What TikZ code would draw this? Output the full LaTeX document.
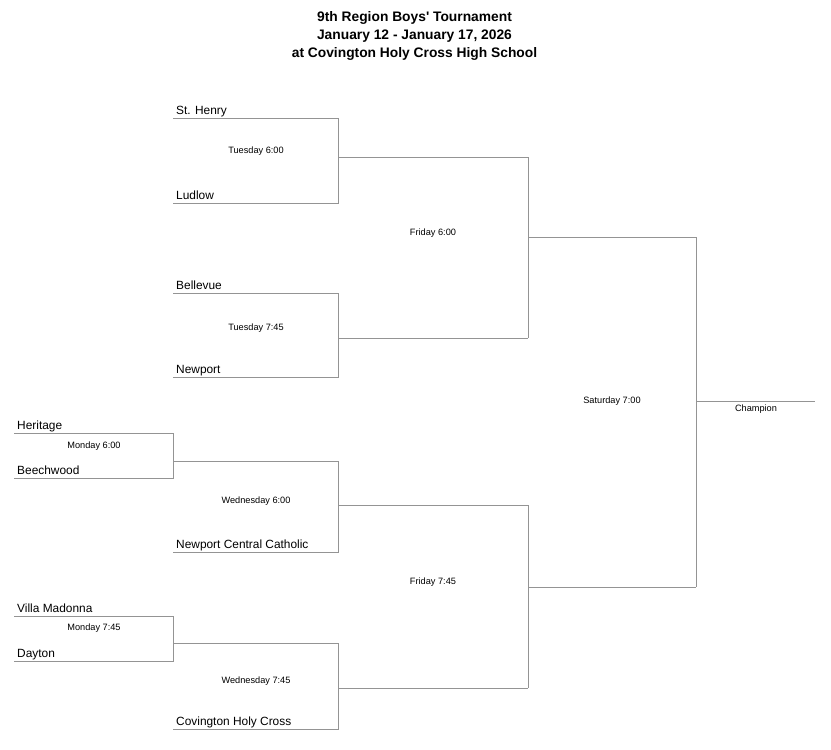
\documentclass[tikz,border=0pt]{standalone}
\usepackage{fontspec}
\setmainfont{Liberation Sans}[Ligatures=TeXOff]
\begin{document}
\begin{tikzpicture}[x=1pt,y=-1pt,
  bline/.style={draw=black!42,line width=0.9pt},
  team/.style={anchor=base west,inner sep=0pt,font=\fontsize{11.9}{13}\selectfont},
  game/.style={anchor=center,inner sep=0pt,font=\fontsize{9.2}{10}\selectfont},
  ttl/.style={anchor=center,inner sep=0pt,font=\bfseries\fontsize{13.8}{15}\selectfont}]
\useasboundingbox (0,0) rectangle (831,750);
% title
\node[ttl] (t1) at (414.5,18) {9th Region Boys' Tournament};
\node[ttl] (t2) at (414.5,36) {January 12 - January 17, 2026};
\node[ttl] (t3) at (414.5,54) {at Covington Holy Cross High School};
% coordinates
\coordinate (a1) at (173,118); \coordinate (a2) at (338,118);
\coordinate (a3) at (338,203); \coordinate (a4) at (173,203);
\coordinate (a5) at (338,157);
\coordinate (b1) at (173,293); \coordinate (b2) at (338,293);
\coordinate (b3) at (338,377); \coordinate (b4) at (173,377);
\coordinate (b5) at (338,338);
\coordinate (f1) at (528,157); \coordinate (f2) at (528,338);
\coordinate (f3) at (528,237); \coordinate (s1) at (696,237);
\coordinate (h1) at (14,433); \coordinate (h2) at (173,433);
\coordinate (h3) at (173,478); \coordinate (h4) at (14,478);
\coordinate (h5) at (173,461); \coordinate (w1) at (338,461);
\coordinate (w2) at (338,552); \coordinate (w3) at (173,552);
\coordinate (w4) at (338,505); \coordinate (g1) at (528,505);
\coordinate (v1) at (14,616); \coordinate (v2) at (173,616);
\coordinate (v3) at (173,661); \coordinate (v4) at (14,661);
\coordinate (v5) at (173,643); \coordinate (x1) at (338,643);
\coordinate (x2) at (338,729); \coordinate (x3) at (173,729);
\coordinate (x4) at (338,688); \coordinate (g2) at (528,688);
\coordinate (g3) at (528,587); \coordinate (s2) at (696,587);
\coordinate (c1) at (696,401); \coordinate (c2) at (815,401);
% lines
\draw[bline] (a1) -- (a2) -- (a3) -- (a4);
\draw[bline] (a5) -- (f1);
\draw[bline] (b1) -- (b2) -- (b3) -- (b4);
\draw[bline] (b5) -- (f2);
\draw[bline] (f1) -- (f2);
\draw[bline] (f3) -- (s1);
\draw[bline] (h1) -- (h2) -- (h3) -- (h4);
\draw[bline] (h5) -- (w1);
\draw[bline] (w1) -- (w2) -- (w3);
\draw[bline] (w4) -- (g1);
\draw[bline] (v1) -- (v2) -- (v3) -- (v4);
\draw[bline] (v5) -- (x1);
\draw[bline] (x1) -- (x2) -- (x3);
\draw[bline] (x4) -- (g2);
\draw[bline] (g1) -- (g2);
\draw[bline] (g3) -- (s2);
\draw[bline] (s1) -- (s2);
\draw[bline] (c1) -- (c2);
% teams
\node[team] (n1) at (176,114) {St. Henry};
\node[team] (n2) at (176,199) {Ludlow};
\node[team] (n3) at (176,289) {Bellevue};
\node[team] (n4) at (176,373) {Newport};
\node[team] (n5) at (17,429) {Heritage};
\node[team] (n6) at (17,474) {Beechwood};
\node[team] (n7) at (176,548) {Newport Central Catholic};
\node[team] (n8) at (17,612) {Villa Madonna};
\node[team] (n9) at (17,657) {Dayton};
\node[team] (n10) at (176,725) {Covington Holy Cross};
% games
\node[game] (m1) at (256,151) {Tuesday 6:00};
\node[game] (m2) at (256,328) {Tuesday 7:45};
\node[game] (m3) at (94,446) {Monday 6:00};
\node[game] (m4) at (94,628) {Monday 7:45};
\node[game] (m5) at (256,501) {Wednesday 6:00};
\node[game] (m6) at (256,681) {Wednesday 7:45};
\node[game] (m7) at (433,233) {Friday 6:00};
\node[game] (m8) at (433,582) {Friday 7:45};
\node[game] (m9) at (612,401) {Saturday 7:00};
\node[game] (m10) at (756,409) {Champion};
\end{tikzpicture}
\end{document}
